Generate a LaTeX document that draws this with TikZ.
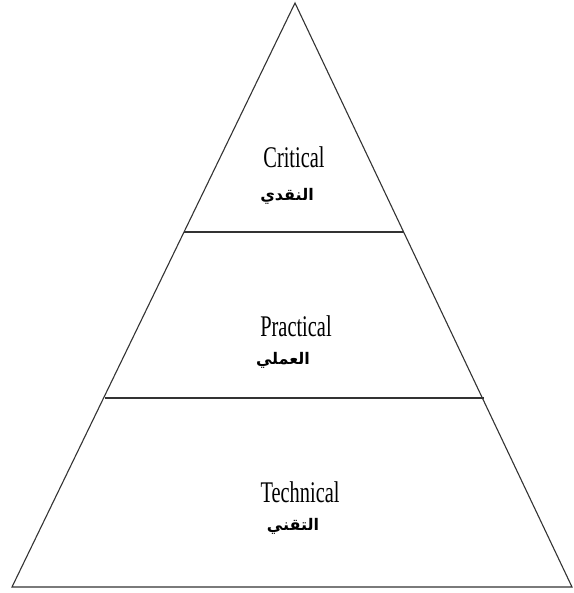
\documentclass[tikz,border=0pt]{standalone}
\usepackage{fontspec}
\setmainfont{Liberation Serif}
\newfontfamily\arabicfont[Script=Arabic]{DejaVu Sans}
\TeXXeTstate=1

\newcommand{\narrow}[1]{\scalebox{0.68}[1]{#1}}

\tikzset{
    level/.style = {font=\fontsize{30}{34}\selectfont, inner sep=0pt},
    arlevel/.style = {font=\arabicfont\bfseries\fontsize{16}{19}\selectfont, inner sep=0pt},
    edge/.style = {line width=1.1pt, black!80}
}

\begin{document}
\begin{tikzpicture}[x=1pt,y=-1pt]
    \useasboundingbox (0,0) rectangle (573,593);
    \draw[edge] (295,3)coordinate(top)
    --(572,587)coordinate(br)
    --(12,587)coordinate(bl)--cycle;
    \path (184,232)coordinate(l1) (404,232)coordinate(r1)
    (105,398)coordinate(l2) (484,398)coordinate(r2);
    \draw[edge](l1)--(r1);
    \draw[edge](l2)--(r2);
    \node(critical)[level] at (294,157){\narrow{Critical}};
    \node(critical ar)[arlevel] at (287,196){\beginR النقدي\endR};
    \node(practical)[level] at (296,326){\narrow{Practical}};
    \node(practical ar)[arlevel] at (283,360){\beginR العملي\endR};
    \node(technical)[level] at (300,492){\narrow{Technical}};
    \node(technical ar)[arlevel] at (293,526){\beginR التقني\endR};
\end{tikzpicture}
\end{document}
